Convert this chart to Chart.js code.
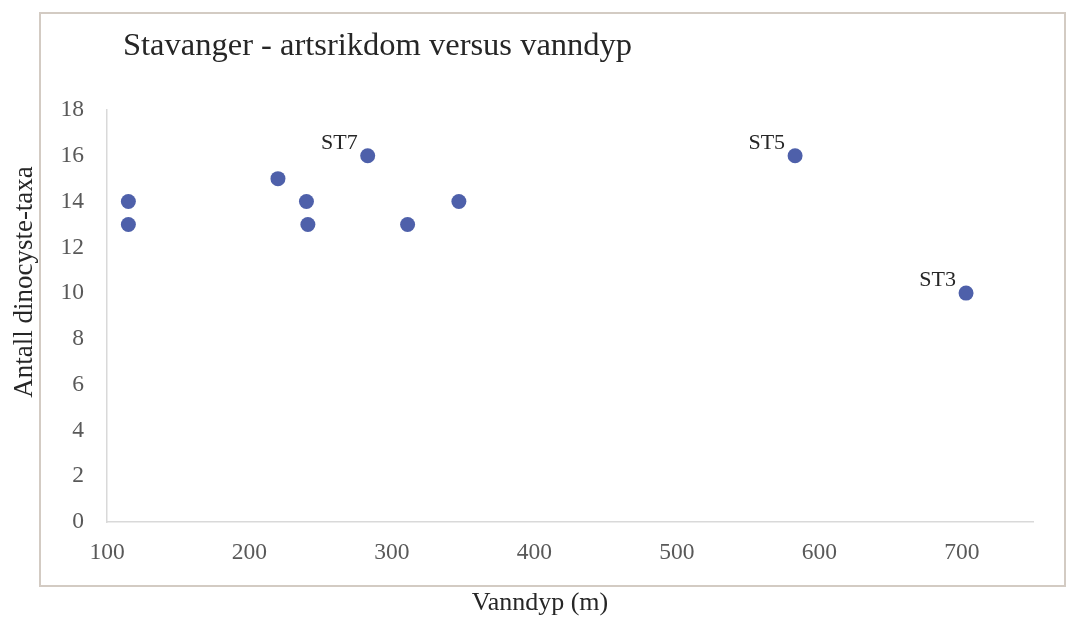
<!DOCTYPE html>
<html>
<head>
<meta charset="utf-8">
<title>Stavanger - artsrikdom versus vanndyp</title>
<script src="https://cdn.jsdelivr.net/npm/chart.js@4/dist/chart.umd.min.js"></script>
<style>
  html, body { margin: 0; padding: 0; background: #fff; }
  #wrap { position: relative; width: 1072px; height: 621px; }
</style>
</head>
<body>
<div id="wrap"><canvas id="chart"></canvas></div>
<script>
/* ── Data ─────────────────────────────────────────────────────── */
var DEPTH = [115, 115, 220, 240, 241, 283, 311, 347, 583, 703];   // Vanndyp (m)
var TAXA = [14, 13, 15, 14, 13, 16, 13, 14, 16, 10];              // Antall dinocyste-taxa
var STATION = ['', '', '', '', '', 'ST7', '', '', 'ST5', 'ST3'];  // point labels
var X_TICKS = [100, 200, 300, 400, 500, 600, 700];
var Y_TICKS = [0, 2, 4, 6, 8, 10, 12, 14, 16, 18];

var TITLE = 'Stavanger - artsrikdom versus vanndyp';
var X_TITLE = 'Vanndyp (m)';
var Y_TITLE = 'Antall dinocyste-taxa';

/* ── Styling ──────────────────────────────────────────────────── */
var SERIF = "'Liberation Serif', 'Times New Roman', serif";
var DOT = '#4e60aa';
var AXIS = '#d9d9d9';
var TICK_TEXT = '#595959';
var DARK_TEXT = '#262626';

/* frame, title, axis titles and station labels */
var decorPlugin = {
  id: 'decor',
  beforeDraw: function(chart) {
    var ctx = chart.ctx;
    ctx.save();
    ctx.strokeStyle = '#d3cbc3';
    ctx.lineWidth = 2;
    ctx.strokeRect(40, 13, 1025, 573);
    ctx.restore();
  },
  afterDraw: function(chart) {
    var ctx = chart.ctx;
    ctx.save();
    ctx.fillStyle = DARK_TEXT;
    ctx.textBaseline = 'alphabetic';

    ctx.font = '32.5px ' + SERIF;
    ctx.textAlign = 'left';
    ctx.fillText(TITLE, 123, 55);

    ctx.font = '26px ' + SERIF;
    ctx.textAlign = 'center';
    ctx.fillText(X_TITLE, 540, 610);

    ctx.save();
    ctx.font = '27px ' + SERIF;
    ctx.translate(32, 282);
    ctx.rotate(-Math.PI / 2);
    ctx.fillText(Y_TITLE, 0, 0);
    ctx.restore();

    // station labels sit up-left of their point
    var meta = chart.getDatasetMeta(0);
    ctx.font = '22px ' + SERIF;
    ctx.textAlign = 'right';
    ctx.textBaseline = 'middle';
    meta.data.forEach(function(pt, i) {
      if (!STATION[i]) return;
      ctx.fillText(STATION[i], pt.x - 10, pt.y - 13);
    });
    ctx.restore();
  }
};

var points = DEPTH.map(function(d, i) { return { x: d, y: TAXA[i] }; });

new Chart(document.getElementById('chart'), {
  type: 'scatter',
  data: {
    datasets: [{
      label: Y_TITLE,
      data: points,
      backgroundColor: DOT,
      borderColor: DOT,
      borderWidth: 0,
      pointRadius: 7.5,
      pointHoverRadius: 7.5
    }]
  },
  options: {
    responsive: true,
    maintainAspectRatio: false,
    animation: false,
    events: [],
    layout: { padding: { left: 0, right: 39, top: 110, bottom: 0 } },
    plugins: {
      legend: { display: false },
      title: { display: false },
      tooltip: { enabled: false }
    },
    scales: {
      x: {
        type: 'linear',
        min: 100,
        max: 750,
        afterBuildTicks: function(s) { s.ticks = X_TICKS.map(function(v) { return { value: v }; }); },
        afterFit: function(s) { s.height = 99; },
        grid: { color: 'transparent', drawTicks: false },
        border: { display: true, color: AXIS, width: 1.5 },
        ticks: { color: TICK_TEXT, padding: 17, font: { family: SERIF, size: 23.5 } }
      },
      y: {
        type: 'linear',
        min: 0,
        max: 18,
        afterBuildTicks: function(s) { s.ticks = Y_TICKS.map(function(v) { return { value: v }; }); },
        afterFit: function(s) { s.width = 107; },
        grid: { color: 'transparent', drawTicks: false },
        border: { display: true, color: AXIS, width: 1.5 },
        ticks: { color: TICK_TEXT, padding: 23, font: { family: SERIF, size: 23.5 } }
      }
    }
  },
  plugins: [decorPlugin]
});
</script>
</body>
</html>
